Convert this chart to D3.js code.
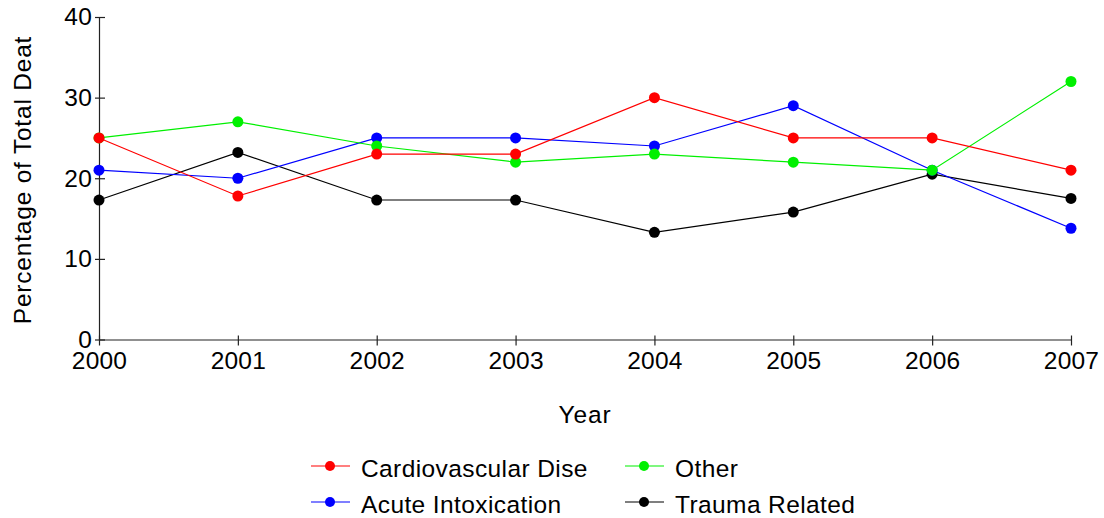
<!DOCTYPE html>
<html>
<head>
<meta charset="utf-8">
<script src="https://cdn.jsdelivr.net/npm/d3@7"></script>
<style>
  body { margin: 0; background: #fff; }
  text { font-family: "Liberation Sans", Arial, sans-serif; fill: #000; }
</style>
</head>
<body>
<svg id="chart" width="1104" height="518"></svg>
<script>
const years = [2000, 2001, 2002, 2003, 2004, 2005, 2006, 2007];
const yTicks = [0, 10, 20, 30, 40];

const cardiovascular = [25, 17.8, 23, 23, 30, 25, 25, 21];
const acuteIntox = [21, 20, 25, 25, 24, 29, 21, 13.8];
const other = [25, 27, 24, 22, 23, 22, 21, 32];
const trauma = [17.3, 23.2, 17.3, 17.3, 13.3, 15.8, 20.5, 17.5];

const series = [
  { name: "Cardiovascular Dise", values: cardiovascular, color: "#ff0000" },
  { name: "Other", values: other, color: "#00f000" },
  { name: "Acute Intoxication", values: acuteIntox, color: "#0000ff" },
  { name: "Trauma Related", values: trauma, color: "#000000" },
];
const drawOrder = [3, 2, 1, 0];

const svg = d3.select("#chart");
const fontSize = "24.5px";

const x = d3.scalePoint().domain(years).range([99, 1071]);
const y = d3.scaleLinear().domain([0, 40]).range([339.5, 17]);

// y axis, ticks cross the axis line
const yAxis = svg.append("g")
  .attr("transform", `translate(${x(2000)},0)`)
  .call(d3.axisLeft(y).tickValues(yTicks).tickSizeOuter(0));
yAxis.selectAll(".tick line").attr("x1", 6).attr("x2", -4);
yAxis.selectAll(".tick text").attr("x", -7).style("font-size", fontSize).style("letter-spacing", "0.2px");

// x axis
const xAxis = svg.append("g")
  .attr("transform", `translate(0,${y(0)})`)
  .call(d3.axisBottom(x).tickSizeOuter(0));
xAxis.selectAll(".tick line").attr("y1", -4).attr("y2", 6);
xAxis.selectAll(".tick text").attr("y", 12).style("font-size", fontSize).style("letter-spacing", "0.2px");

svg.selectAll(".domain, .tick line").attr("stroke", "#222").attr("stroke-width", 1.2);

// axis titles
svg.append("text")
  .attr("x", 585).attr("y", 423)
  .attr("text-anchor", "middle")
  .style("font-size", fontSize)
  .style("letter-spacing", "0.9px")
  .text("Year");

svg.append("text")
  .attr("transform", "translate(31,180) rotate(-90)")
  .attr("text-anchor", "middle")
  .style("font-size", fontSize)
  .style("letter-spacing", "0.8px")
  .text("Percentage of Total Deat");

const line = d3.line().x((d, i) => x(years[i])).y(d => y(d));

drawOrder.forEach(k => {
  const s = series[k];
  const g = svg.append("g");
  g.append("path")
    .attr("d", line(s.values))
    .attr("fill", "none")
    .attr("stroke", s.color)
    .attr("stroke-width", 1.2);
  g.selectAll("circle")
    .data(s.values)
    .enter()
    .append("circle")
    .attr("cx", (d, i) => x(years[i]))
    .attr("cy", d => y(d))
    .attr("r", 5.5)
    .attr("fill", s.color);
});

// legend, two columns by two rows
const legendPos = [
  { lx: 311, ty: 466 },
  { lx: 625, ty: 466 },
  { lx: 311, ty: 502 },
  { lx: 625, ty: 502 },
];
const legend = svg.append("g");
series.forEach((s, i) => {
  const p = legendPos[i];
  const item = legend.append("g").attr("transform", `translate(${p.lx},${p.ty})`);
  item.append("line")
    .attr("x1", 0).attr("x2", 39)
    .attr("stroke", s.color).attr("stroke-width", 1.2);
  item.append("circle").attr("cx", 19).attr("r", 5).attr("fill", s.color);
  item.append("text")
    .attr("x", 50).attr("y", 10.5)
    .style("font-size", fontSize)
    .style("letter-spacing", "0.4px")
    .text(s.name);
});
</script>
</body>
</html>
